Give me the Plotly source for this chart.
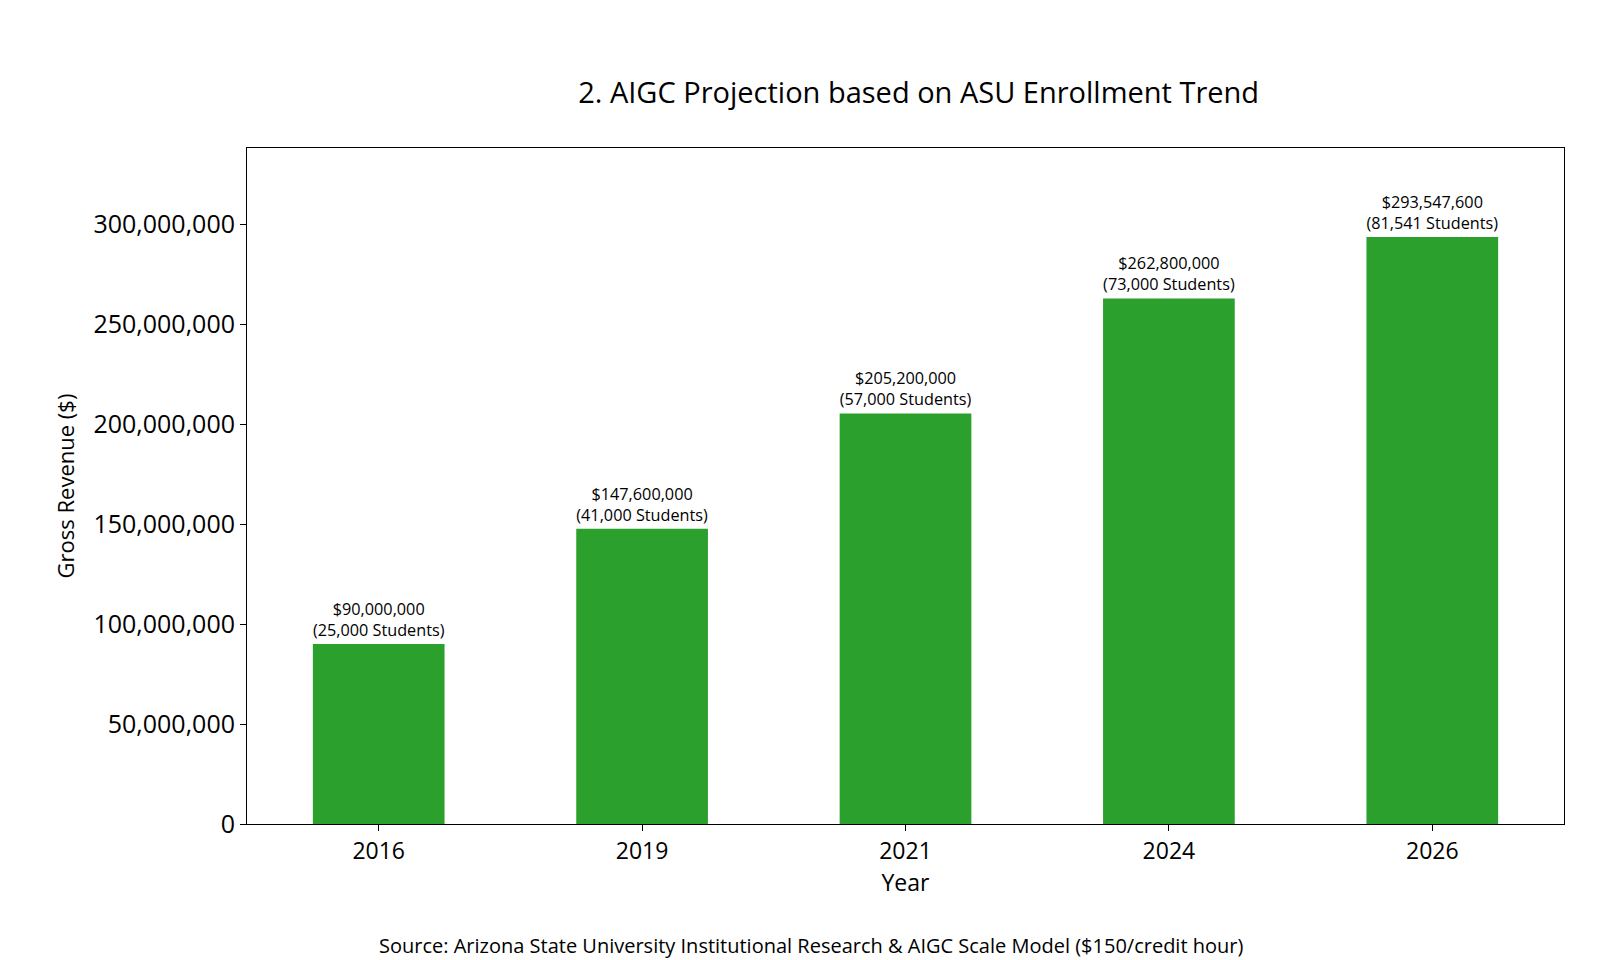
import plotly.graph_objects as go

years = ["2016", "2019", "2021", "2024", "2026"]
revenue = [90000000, 147600000, 205200000, 262800000, 293547600]
students = [25000, 41000, 57000, 73000, 81541]

labels = [f"${r:,}<br>({s:,} Students)" for r, s in zip(revenue, students)]

fig = go.Figure()
fig.add_trace(go.Bar(
    x=years, y=revenue, width=0.5,
    marker=dict(color="#2ca02c", line=dict(width=0)),
    text=labels, textposition="outside", cliponaxis=False,
    textfont=dict(size=19, color="black"),
))

fig.update_layout(
    width=1600, height=960,
    margin=dict(l=239, r=44, t=140, b=144),
    plot_bgcolor="white", paper_bgcolor="white",
    font=dict(family="Open Sans", size=22, color="black"),
    showlegend=False,
    title=dict(text="2. AIGC Projection based on ASU Enrollment Trend",
               x=0.51, xref="paper", xanchor="center", y=0.912, yanchor="middle",
               font=dict(size=29)),
    annotations=[dict(
        text="Source: Arizona State University Institutional Research & AIGC Scale Model ($150/credit hour)",
        x=0.428, xref="paper", xanchor="center", y=-0.179, yref="paper", yanchor="middle",
        showarrow=False, font=dict(size=20),
    )],
)
fig.update_xaxes(title=dict(text="Year", standoff=8, font=dict(size=23)), showline=True, linecolor="black",
                 mirror=True, ticks="outside", ticklen=6, tickcolor="black", showgrid=False,
                 tickfont=dict(size=23))
fig.update_yaxes(title=dict(text="Gross Revenue ($)", standoff=12, font=dict(size=22)), range=[0, 338000000],
                 dtick=50000000, tickformat=",d", showline=True, linecolor="black",
                 mirror=True, ticks="outside", ticklen=6, tickcolor="black",
                 showgrid=False, zeroline=False, tickfont=dict(size=25))

fig.write_html("out.html")
